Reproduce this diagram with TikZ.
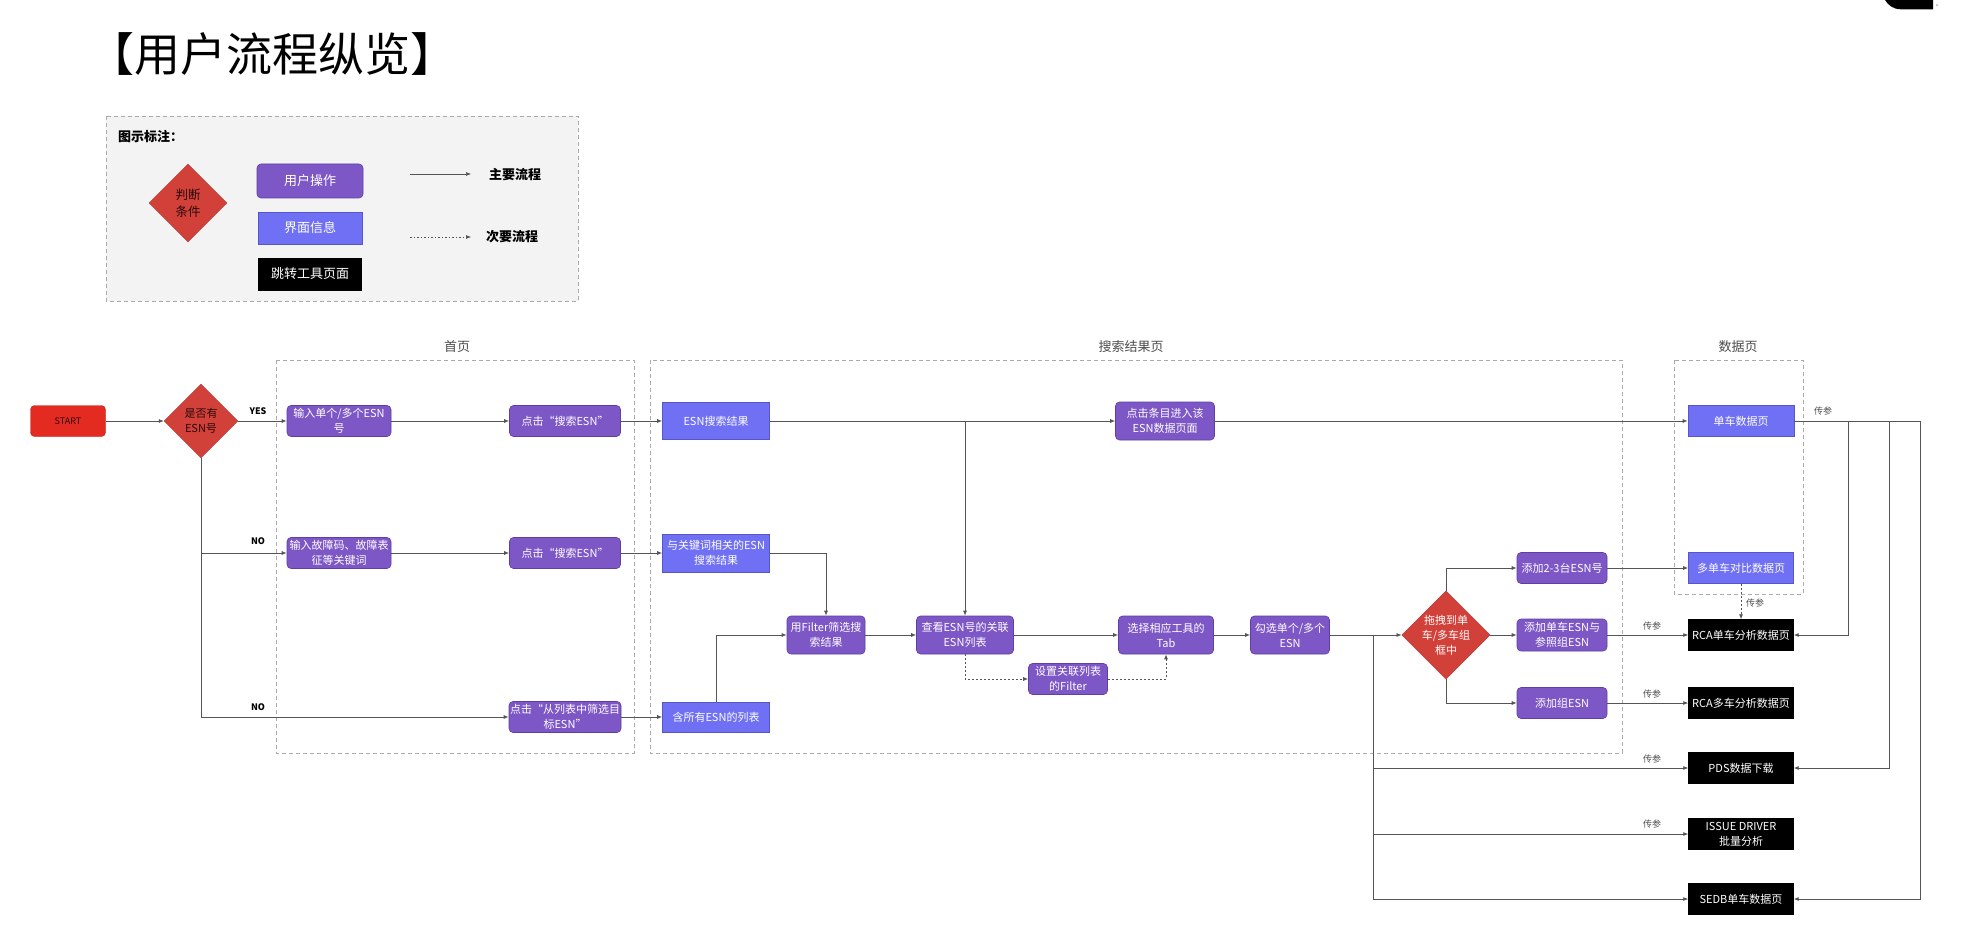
\documentclass[tikz,border=0pt]{standalone}
\usepackage{fontspec}
\setmainfont{Noto Sans CJK SC}
\usetikzlibrary{arrows.meta,shapes.geometric,calc}
\definecolor{opf}{HTML}{7E57C6}
\definecolor{opb}{HTML}{5E3FA3}
\definecolor{inff}{HTML}{7070F4}
\definecolor{infb}{HTML}{5656C8}
\definecolor{decf}{HTML}{D2403A}
\definecolor{startf}{HTML}{E32B22}
\definecolor{lc}{HTML}{555555}
\definecolor{frc}{HTML}{AAAAAA}
\definecolor{lgbg}{HTML}{F3F3F3}
\definecolor{dtxt}{HTML}{2A0A0A}
\newcommand\fsbox{\fontsize{11}{15}\selectfont}
\newcommand\fslg{\fontsize{13}{16}\selectfont}
\tikzset{
  sz/.style 2 args={minimum width=#1pt,minimum height=#2pt},
  base/.style={inner sep=1pt,align=center,text=white,font=\fsbox},
  op/.style={base,draw=opb,fill=opf,rounded corners=4pt,line width=0.6pt},
  info/.style={base,draw=infb,fill=inff,line width=0.6pt},
  tool/.style={base,draw=black,fill=black},
  dec/.style={diamond,aspect=1,inner sep=0pt,fill=decf,draw=decf!85!black,align=center,font=\fsbox},
  flow/.style={draw=lc,line width=0.8pt,-{Latex[length=5pt,width=4pt]}},
  dflow/.style={flow,dash pattern=on 2pt off 2pt},
  plain/.style={draw=lc,line width=0.8pt},
  frame/.style={draw=frc,line width=0.7pt,dash pattern=on 4pt off 3pt},
  ftitle/.style={text=black!70,font=\fontsize{13}{15}\selectfont},
  tp/.style={text=black!70,font=\fontsize{9}{11}\selectfont,inner sep=0pt},
  yn/.style={font=\bfseries\fontsize{9}{11}\selectfont,inner sep=0pt},
}
\begin{document}
\begin{tikzpicture}[x=1pt,y=-1pt]
\useasboundingbox (0,0) rectangle (1964,928);
\fill[white] (0,0) rectangle (1964,928);

% logo fragment
\fill[black] (1933,0) -- (1933,9.3) -- (1901,9.3) .. controls (1893,9.3) and (1888,5) .. (1885,0) -- cycle;
\node[text=black!50,font=\fontsize{5}{5}\selectfont,inner sep=0pt] (reg) at (1937,7) {®};

% title
\node[anchor=west,inner sep=0pt,font=\fontsize{46}{50}\selectfont] (title) at (88,54) {【用户流程纵览】};

% legend
\draw[frame,fill=lgbg] (106,116) rectangle (578,301);
\node[anchor=west,inner sep=0pt,font=\bfseries\fontsize{13}{15}\selectfont] (lgt) at (118,137) {图示标注：};
\node[dec,minimum size=78pt,text=dtxt,font=\fontsize{12.5}{17}\selectfont] (ld) at (188,203) {判断\\条件};
\node[op,sz={106}{34},font=\fslg] (lop) at (310,181) {用户操作};
\node[info,sz={104}{32},font=\fslg] (linfo) at (310,228) {界面信息};
\node[tool,sz={103}{32},font=\fslg] (ltool) at (310,274) {跳转工具页面};
\coordinate (la1) at (410,174);
\coordinate (la2) at (471,174);
\coordinate (lb1) at (410,237);
\coordinate (lb2) at (471,237);
\draw[flow,line width=0.6pt] (la1) -- (la2);
\draw[flow,line width=0.6pt,dash pattern=on 1.5pt off 2pt] (lb1) -- (lb2);
\node[font=\bfseries\fontsize{13}{15}\selectfont,inner sep=0pt] (lm) at (515,175) {主要流程};
\node[font=\bfseries\fontsize{13}{15}\selectfont,inner sep=0pt] (ls) at (512,237) {次要流程};

% frames
\draw[frame] (276,360) rectangle (634,753);
\draw[frame] (650,360) rectangle (1622,753);
\draw[frame] (1674,360) rectangle (1803,594);
\node[ftitle] (t1) at (457,347) {首页};
\node[ftitle] (t2) at (1131,347) {搜索结果页};
\node[ftitle] (t3) at (1738,347) {数据页};

% nodes
\node[base,fill=startf,draw=startf!80!black,rounded corners=4pt,sz={75}{31},text=dtxt,font=\fontsize{9}{11}\selectfont] (start) at (68,421) {START};
\node[dec,minimum size=74pt,text=dtxt,font=\fontsize{11}{15}\selectfont] (d1) at (201,421) {是否有\\ESN号};
\node[op,sz={104}{31}] (a1) at (339,421) {输入单个/多个ESN\\号};
\node[op,sz={111}{31}] (a2) at (565,421) {点击“搜索ESN”};
\node[op,sz={104}{31}] (a3) at (339,553) {输入故障码、故障表\\征等关键词};
\node[op,sz={111}{31}] (a4) at (565,553) {点击“搜索ESN”};
\node[op,sz={111}{31}] (a5) at (565,717) {点击“从列表中筛选目\\标ESN”};

\node[info,sz={107}{37}] (b1) at (716,421) {ESN搜索结果};
\node[op,sz={99}{38}] (b2) at (1165,421) {点击条目进入该\\ESN数据页面};
\node[info,sz={107}{38}] (b3) at (716,553) {与关键词相关的ESN\\搜索结果};
\node[info,sz={107}{30}] (b6) at (716,717) {含所有ESN的列表};
\node[op,sz={78}{38}] (b4) at (826,635) {用Filter筛选搜\\索结果};
\node[op,sz={97}{38}] (b5) at (965,635) {查看ESN号的关联\\ESN列表};
\node[op,sz={95}{38}] (b7) at (1166,635) {选择相应工具的\\Tab};
\node[op,sz={79}{31}] (b8) at (1068,679) {设置关联列表\\的Filter};
\node[op,sz={79}{38}] (b9) at (1290,635) {勾选单个/多个\\ESN};

\node[dec,minimum size=88pt,text=white] (d2) at (1446,635) {拖拽到单\\车/多车组\\框中};
\node[op,sz={90}{31}] (e1) at (1562,568) {添加2-3台ESN号};
\node[op,sz={90}{32}] (e2) at (1562,635) {添加单车ESN与\\参照组ESN};
\node[op,sz={90}{31}] (e3) at (1562,703) {添加组ESN};

\node[info,sz={106}{31}] (c1) at (1741,421) {单车数据页};
\node[info,sz={105}{31}] (c2) at (1741,568) {多单车对比数据页};
\node[tool,sz={105}{31}] (r1) at (1741,635) {RCA单车分析数据页};
\node[tool,sz={105}{31}] (r2) at (1741,703) {RCA多车分析数据页};
\node[tool,sz={105}{31}] (r3) at (1741,768) {PDS数据下载};
\node[tool,sz={105}{31}] (r4) at (1741,834) {ISSUE DRIVER\\批量分析};
\node[tool,sz={105}{31}] (r5) at (1741,899) {SEDB单车数据页};

% connectors
\draw[flow] (start) -- (d1);
\draw[flow] (d1) -- (a1);
\node[yn] (yes) at (258,411) {YES};
\draw[flow] (d1.south) |- (a3.west);
\draw[flow] (d1.south) |- (a5.west);
\node[yn] (no1) at (258,541) {NO};
\node[yn] (no2) at (258,707) {NO};
\draw[flow] (a1) -- (a2);
\draw[flow] (a3) -- (a4);
\draw[flow] (a2) -- (b1);
\draw[flow] (a4) -- (b3);
\draw[flow] (a5) -- (b6);
\draw[flow] (b1) -- (b2);
\draw[flow] (b2) -- (c1);
\coordinate (jb) at (b5.north |- b1.east);
\draw[flow] (jb) -- (b5.north);
\draw[flow] (b3.east) -| (b4.north);
\draw[flow] (b6.north) |- (b4.west);
\draw[flow] (b4) -- (b5);
\draw[flow] (b5) -- (b7);
\draw[flow] (b7) -- (b9);
\draw[flow] (b9) -- (d2);
\draw[dflow] (b5.south) |- (b8.west);
\draw[dflow] (b8.east) -| (b7.south);
\coordinate (jd) at (1373,635);
\draw[flow] (jd) |- (r3.west);
\draw[flow] (jd) |- (r4.west);
\draw[flow] (jd) |- (r5.west);
\draw[flow] (d2.north) |- (e1.west);
\draw[flow] (d2) -- (e2);
\draw[flow] (d2.south) |- (e3.west);
\draw[flow] (e1) -- (c2);
\draw[flow] (e2) -- (r1);
\draw[flow] (e3) -- (r2);
\draw[dflow] (c2) -- (r1);
\node[tp] (p1) at (1755,603) {传参};
\node[tp] (p2) at (1652,626) {传参};
\node[tp] (p3) at (1652,694) {传参};
\node[tp] (p4) at (1652,759) {传参};
\node[tp] (p5) at (1652,824) {传参};
\node[tp] (p6) at (1823,411) {传参};
\coordinate (k1) at (1848,635);
\coordinate (k2) at (1889,768);
\coordinate (k3) at (1920,899);
\draw[flow] (c1.east) -| (k1) -- (r1.east);
\draw[flow] (c1.east) -| (k2) -- (r3.east);
\draw[flow] (c1.east) -| (k3) -- (r5.east);
\end{tikzpicture}
\end{document}
